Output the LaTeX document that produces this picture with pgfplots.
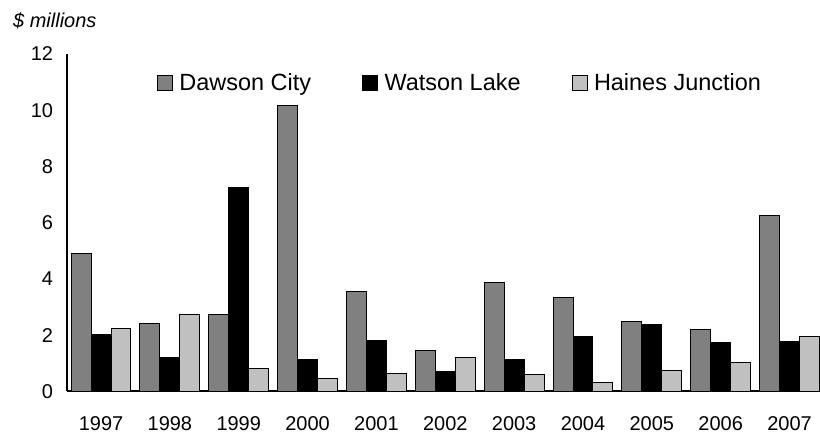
\documentclass[border=0pt]{standalone}
\usepackage{fontspec}
\setmainfont{Liberation Sans}
\usepackage{pgfplots}
\usepackage{pgfplotstable}
\pgfplotsset{compat=1.18}
\definecolor{dawson}{HTML}{808080}
\definecolor{haines}{HTML}{C0C0C0}

% $ millions, by year (index 0 = 1997)
\pgfplotstableread{
x  dawson watson haines
0  4.91   2.01   2.25
1  2.40   1.22   2.73
2  2.75   7.25   0.80
3  10.15  1.15   0.47
4  3.55   1.80   0.63
5  1.47   0.71   1.20
6  3.89   1.12   0.60
7  3.33   1.95   0.33
8  2.50   2.37   0.76
9  2.19   1.73   1.04
10 6.25   1.76   1.95
}\datatable

\begin{document}
\begin{tikzpicture}
\begin{axis}[
    scale only axis,
    width=753bp, height=338bp,
    ybar=0pt, bar width=20bp,
    xmin=-0.5, xmax=10.42,
    ymin=0, ymax=12,
    axis x line=bottom, axis y line=left,
    axis line style={-, line width=2bp},
    xtick=data,
    xticklabels={1997,1998,1999,2000,2001,2002,2003,2004,2005,2006,2007},
    ytick={0,2,...,12},
    major tick length=0pt,
    tick label style={font=\fontsize{20bp}{24bp}\selectfont},
    /pgf/number format/assume math mode=true,
    xticklabel style={yshift=-22bp},
    yticklabel style={xshift=-10bp},
    clip=false,
    legend style={draw=none, fill=none, inner sep=0pt,
        at={(axis description cs:0.12,0.914)}, anchor=west,
        legend columns=-1,
        font=\fontsize{23.5bp}{27bp}\selectfont,
        /tikz/every odd column/.append style={column sep=0bp},
        /tikz/every even column/.append style={column sep=49bp}},
    legend image code/.code={\draw[#1, line width=1bp] (0bp,-7.5bp) rectangle (15bp,7.5bp);
        \path[draw=none, fill=none] (0bp,0bp) -- (20bp,0bp);},
]
\addplot[fill=dawson, draw=black, line width=1bp] table[x=x, y=dawson] {\datatable};
\addplot[fill=black, draw=black, line width=1bp] table[x=x, y=watson] {\datatable};
\addplot[fill=haines, draw=black, line width=1bp] table[x=x, y=haines] {\datatable};
\legend{Dawson City, Watson Lake, Haines Junction}
\node[anchor=west, font=\fontsize{20bp}{24bp}\selectfont\itshape]
    at ([shift={(-57bp,33bp)}]rel axis cs:0,1) {\$ millions};
\path ([shift={(-66.7bp,-41bp)}]rel axis cs:0,0) rectangle ([shift={(0bp,54bp)}]rel axis cs:1,1);
\end{axis}
\end{tikzpicture}
\end{document}
